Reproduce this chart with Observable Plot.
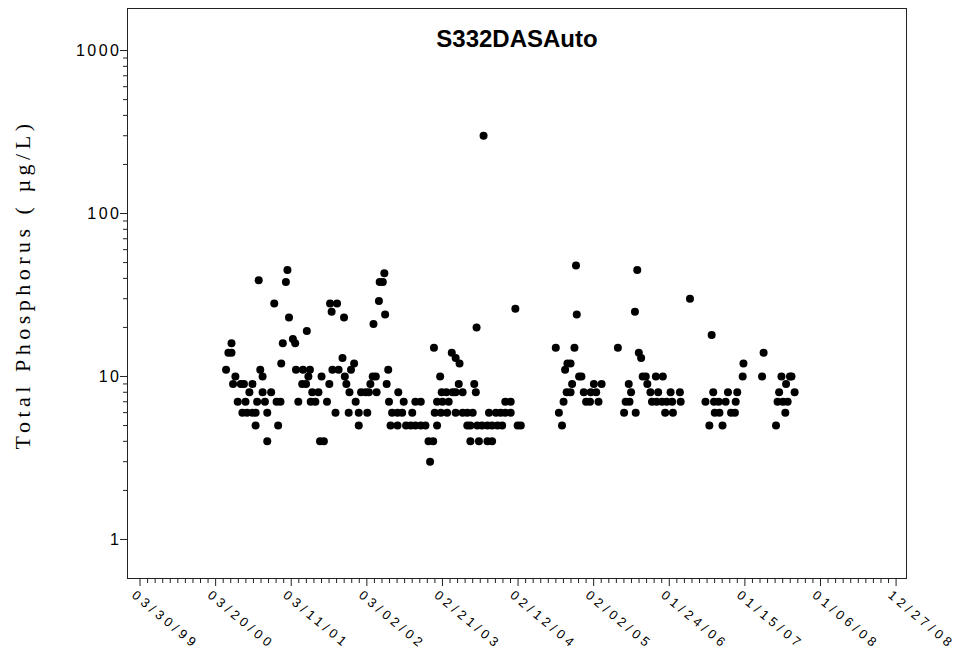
<!DOCTYPE html>
<html>
<head>
<meta charset="utf-8">
<script src="https://cdn.jsdelivr.net/npm/d3@7"></script>
<script src="https://cdn.jsdelivr.net/npm/@observablehq/plot@0.6"></script>
<style>
  body { margin: 0; background: #fff; }
</style>
</head>
<body>
<div id="chart"></div>
<script>
// Station and axis text
const stationName = "S332DASAuto";
const yAxisTitle = "Total Phosphorus ( µg/L)";

// Sample times (decimal year) and total phosphorus (µg/L)
const sampleYear = [
  2000.35, 2000.38, 2000.42, 2000.42, 2000.44, 2000.47, 2000.50, 2000.54, 2000.56, 2000.58,
  2000.60, 2000.62, 2000.65, 2000.69, 2000.69, 2000.73, 2000.73, 2000.75, 2000.77, 2000.79,
  2000.82, 2000.82, 2000.85, 2000.88, 2000.88, 2000.93, 2000.97, 2001.00, 2001.02, 2001.05,
  2001.06, 2001.08, 2001.12, 2001.14, 2001.16, 2001.21, 2001.24, 2001.25, 2001.28, 2001.33,
  2001.34, 2001.38, 2001.39, 2001.41, 2001.43, 2001.44, 2001.46, 2001.50, 2001.54, 2001.56,
  2001.58, 2001.61, 2001.65, 2001.68, 2001.69, 2001.71, 2001.72, 2001.76, 2001.78, 2001.80,
  2001.85, 2001.87, 2001.88, 2001.90, 2001.93, 2001.94, 2001.96, 2002.00, 2002.02, 2002.06,
  2002.06, 2002.09, 2002.15, 2002.17, 2002.19, 2002.21, 2002.24, 2002.25, 2002.28, 2002.29,
  2002.32, 2002.33, 2002.37, 2002.39, 2002.40, 2002.42, 2002.44, 2002.45, 2002.47, 2002.49,
  2002.56, 2002.56, 2002.57, 2002.62, 2002.64, 2002.67, 2002.73, 2002.75, 2002.79, 2002.79,
  2002.86, 2002.86, 2002.92, 2002.96, 2002.98, 2003.02, 2003.03, 2003.04, 2003.07, 2003.07,
  2003.11, 2003.12, 2003.13, 2003.14, 2003.19, 2003.20, 2003.22, 2003.26, 2003.27, 2003.31,
  2003.31, 2003.31, 2003.35, 2003.36, 2003.40, 2003.40, 2003.46, 2003.46, 2003.50, 2003.50,
  2003.53, 2003.55, 2003.57, 2003.58, 2003.59, 2003.61, 2003.65, 2003.67, 2003.72, 2003.72,
  2003.74, 2003.78, 2003.78, 2003.83, 2003.85, 2003.89, 2003.91, 2003.95, 2003.95, 2004.02,
  2004.02, 2004.08, 2004.11, 2004.15, 2004.60, 2004.64, 2004.68, 2004.70, 2004.72, 2004.74,
  2004.75, 2004.79, 2004.79, 2004.81, 2004.84, 2004.86, 2004.87, 2004.90, 2004.93, 2004.96,
  2004.99, 2005.04, 2005.05, 2005.09, 2005.12, 2005.15, 2005.19, 2005.40, 2005.48, 2005.50,
  2005.54, 2005.55, 2005.57, 2005.62, 2005.63, 2005.65, 2005.67, 2005.70, 2005.72, 2005.76,
  2005.78, 2005.82, 2005.84, 2005.89, 2005.90, 2005.92, 2005.97, 2005.98, 2006.01, 2006.03,
  2006.08, 2006.10, 2006.11, 2006.20, 2006.21, 2006.33, 2006.53, 2006.58, 2006.61, 2006.63,
  2006.64, 2006.65, 2006.70, 2006.71, 2006.75, 2006.79, 2006.82, 2006.86, 2006.91, 2006.92,
  2006.94, 2007.01, 2007.02, 2007.26, 2007.28, 2007.44, 2007.46, 2007.48, 2007.51, 2007.53,
  2007.56, 2007.57, 2007.59, 2007.62, 2007.64, 2007.68
];
const tpValue = [
  11, 14, 14, 16, 9, 10, 7, 9, 6, 9,
  7, 6, 8, 6, 9, 6, 5, 7, 39, 11,
  10, 8, 7, 6, 4, 8, 28, 7, 5, 7,
  12, 16, 38, 45, 23, 17, 16, 11, 7, 9,
  11, 9, 19, 10, 11, 7, 8, 7, 8, 4,
  10, 4, 7, 9, 28, 25, 11, 6, 28, 11,
  13, 23, 10, 9, 6, 8, 11, 12, 7, 5,
  6, 8, 8, 6, 8, 9, 10, 21, 10, 8,
  29, 38, 38, 43, 24, 9, 11, 7, 5, 6,
  6, 5, 8, 6, 7, 5, 5, 6, 7, 5,
  7, 5, 5, 4, 3, 4, 15, 6, 5, 7,
  10, 6, 8, 7, 8, 6, 7, 14, 8, 13,
  8, 6, 9, 12, 8, 6, 6, 5, 4, 5,
  6, 9, 8, 20, 5, 4, 5, 300, 5, 4,
  6, 5, 4, 6, 5, 6, 5, 6, 7, 7,
  6, 26, 5, 5, 15, 6, 5, 7, 11, 8,
  12, 12, 8, 9, 15, 48, 24, 10, 10, 8,
  7, 7, 8, 9, 8, 7, 9, 15, 6, 7,
  9, 7, 8, 25, 6, 45, 14, 13, 10, 10,
  9, 8, 7, 10, 7, 8, 7, 10, 6, 7,
  8, 7, 6, 8, 7, 30, 7, 5, 18, 8,
  7, 6, 7, 6, 5, 7, 8, 6, 6, 7,
  8, 10, 12, 10, 14, 5, 7, 8, 10, 7,
  6, 9, 7, 10, 10, 8
];

// Axis extents and ticks
const dateDomain = ["1999-01-30", "2009-02-14"];
const tpDomain = [0.576, 1811];
const dateTicks = [
  "1999-03-30", "2000-03-20", "2001-03-11", "2002-03-02", "2003-02-21", "2004-02-12",
  "2005-02-02", "2006-01-24", "2007-01-15", "2008-01-06", "2008-12-27"
];
const dateTickLabels = [
  "03/30/99", "03/20/00", "03/11/01", "03/02/02", "02/21/03", "02/12/04",
  "02/02/05", "01/24/06", "01/15/07", "01/06/08", "12/27/08"
];
const tpTicks = [1, 10, 100, 1000];
const tpTickLabels = ["1", "10", "100", "1000"];
const tpMinorTicks = [2, 3, 4, 5, 6, 7, 8, 9, 20, 30, 40, 50, 60, 70, 80, 90, 200, 300, 400, 500, 600, 700, 800, 900];
const minorPerInterval = 9;

function fromDecimalYear(y) {
  const yr = Math.floor(y);
  const start = Date.UTC(yr, 0, 1), end = Date.UTC(yr + 1, 0, 1);
  return new Date(start + (y - yr) * (end - start));
}

const samples = sampleYear.map((y, i) => ({date: fromDecimalYear(y), tp: tpValue[i]}));
const majorDates = dateTicks.map(d => new Date(d));
const minorDates = d3.pairs(majorDates).flatMap(([a, b]) =>
  d3.range(1, minorPerInterval + 1).map(k => new Date(+a + (b - a) * k / (minorPerInterval + 1))));

const ink = "#222";
const sans = "Liberation Sans, Arial, sans-serif";

const chart = Plot.plot({
  width: 962,
  height: 656,
  marginLeft: 127,
  marginRight: 56,
  marginTop: 8,
  marginBottom: 78,
  style: {background: "#fff", color: ink},
  x: {type: "utc", domain: dateDomain.map(d => new Date(d))},
  y: {type: "log", domain: tpDomain},
  marks: [
    Plot.frame({stroke: ink}),
    Plot.axisX({ticks: majorDates, tickSize: 8, tickFormat: () => "", label: null, stroke: ink}),
    Plot.axisX({ticks: minorDates, tickSize: 5, tickFormat: () => "", label: null, stroke: ink}),
    Plot.axisY({ticks: tpTicks, tickSize: 7, tickFormat: () => "", label: null, stroke: ink}),
    Plot.axisY({ticks: tpMinorTicks, tickSize: 4, tickFormat: () => "", label: null, stroke: ink}),
    // y tick labels
    Plot.text(tpTicks, {
      y: d => d, frameAnchor: "left", text: (d, i) => tpTickLabels[i],
      textAnchor: "end", dx: -6, fontSize: 16, fontFamily: sans, fill: "#000"
    }),
    // rotated date labels
    Plot.text(majorDates, {
      x: d => d, frameAnchor: "bottom", text: (d, i) => dateTickLabels[i],
      rotate: 40, textAnchor: "start", lineAnchor: "top", dx: -3, dy: 11,
      fontSize: 13, fontFamily: sans, fill: "#000"
    }),
    // y axis title
    Plot.text([yAxisTitle], {
      frameAnchor: "left", text: d => d, rotate: -90, dx: -105, dy: -9,
      textAnchor: "middle", lineAnchor: "middle",
      fontSize: 22, fontFamily: "Liberation Serif, Times New Roman, serif", fill: "#000"
    }),
    // station title
    Plot.text([stationName], {
      frameAnchor: "top", text: d => d, lineAnchor: "top", dy: 21,
      fontSize: 24, fontWeight: "bold", fontFamily: sans, fill: "#000"
    }),
    Plot.dot(samples, {x: "date", y: "tp", r: 4, fill: "#000", stroke: null})
  ]
});

// Wide letter spacing for the axis texts (tick labels, dates, axis title)
const textGroups = chart.querySelectorAll('g[aria-label="text"]');
const spacing = ["2.5px", "4px", "4.5px", null];
textGroups.forEach((g, i) => { if (spacing[i]) g.style.letterSpacing = spacing[i]; });

document.getElementById("chart").appendChild(chart);
</script>
</body>
</html>
